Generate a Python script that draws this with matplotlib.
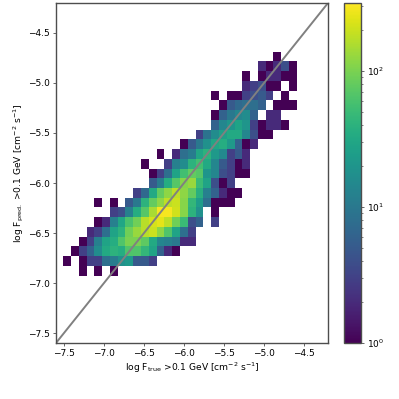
import numpy as np
import matplotlib
matplotlib.use("Agg")
import matplotlib.pyplot as plt
from matplotlib.colors import LogNorm

bin_edges = np.linspace(-7.51, -4.59, 31)
first_row_index = 6  # lowest occupied bin in y

# counts per y-bin, from the top occupied row downward; (first x-bin, counts), 0 = empty
row_00 = (27, [1])
row_01 = (25, [2, 1, 2, 4, 1])
row_02 = (23, [1, 0, 1, 2, 2, 1, 1])
row_03 = (23, [2, 3, 4, 1, 1, 0, 1])
row_04 = (19, [1, 0, 1, 1, 3, 4, 5, 3, 0, 1])
row_05 = (20, [1, 5, 7, 8, 8, 6, 0, 1, 1, 1])
row_06 = (19, [1, 6, 10, 14, 16, 6, 0, 2, 2])
row_07 = (19, [6, 14, 20, 28, 20, 3, 1, 2, 2, 1])
row_08 = (17, [3, 9, 16, 25, 32, 32, 14, 4, 1, 1])
row_09 = (15, [1, 5, 10, 18, 30, 35, 22, 6, 1, 2])
row_10 = (12, [1, 0, 2, 8, 11, 30, 40, 22, 15, 3, 5, 2])
row_11 = (10, [1, 0, 0, 3, 12, 16, 40, 55, 32, 14, 5, 3, 1, 2])
row_12 = (11, [1, 3, 8, 28, 55, 80, 70, 20, 14, 4, 3, 1, 1])
row_13 = (11, [5, 11, 35, 70, 110, 130, 50, 28, 4, 1, 3])
row_14 = (9, [3, 7, 32, 80, 120, 180, 120, 80, 38, 12, 6, 2, 1, 1])
row_15 = (4, [1, 0, 1, 0, 5, 10, 40, 80, 120, 180, 200, 110, 45, 24, 8, 1, 1, 1])
row_16 = (6, [3, 4, 12, 35, 70, 150, 290, 290, 210, 110, 40, 18, 0, 1])
row_17 = (4, [1, 2, 12, 30, 60, 90, 170, 220, 250, 180, 90, 50, 4, 6, 0, 3])
row_18 = (3, [2, 3, 8, 28, 40, 90, 130, 170, 200, 120, 65, 28, 8, 3])
row_19 = (2, [1, 3, 12, 28, 35, 65, 100, 100, 75, 32, 14, 12, 10, 2, 2])
row_20 = (1, [1, 3, 6, 16, 32, 40, 35, 65, 65, 45, 28, 6, 2, 1])
row_21 = (0, [1, 0, 1, 3, 3, 8, 11, 18, 22, 5, 5, 3])
row_22 = (2, [1, 0, 1, 0, 1])
rows_top_down = [row_00, row_01, row_02, row_03, row_04, row_05, row_06, row_07,
                 row_08, row_09, row_10, row_11, row_12, row_13, row_14, row_15,
                 row_16, row_17, row_18, row_19, row_20, row_21, row_22]

ticks = [-7.5, -7.0, -6.5, -6.0, -5.5, -5.0, -4.5]
limits = (-7.6, -4.2)
frame = '#4d4d4d'

counts = np.zeros((30, 30))
for k, (start, vals) in enumerate(rows_top_down):
    r = first_row_index + len(rows_top_down) - 1 - k
    counts[r, start:start + len(vals)] = vals
masked = np.ma.masked_where(counts == 0, counts)

plt.rcParams['font.size'] = 6.5
fig = plt.figure(figsize=(3.99, 3.99), dpi=100)
ax = fig.add_axes([56 / 399, 1 - 343 / 399, 272 / 399, 340 / 399])
cax = fig.add_axes([344 / 399, 1 - 343 / 399, 17 / 399, 340 / 399])

mesh = ax.pcolormesh(bin_edges, bin_edges, masked, cmap='viridis',
                     norm=LogNorm(vmin=1, vmax=316), antialiased=False)
ax.plot(limits, limits, color='gray', lw=1.4)
ax.set_xlim(limits)
ax.set_ylim(limits)
ax.set_xticks(ticks)
ax.set_yticks(ticks)
ax.set_xlabel(r'log F$_{\mathrm{true}}$ >0.1 GeV [cm$^{-2}$ s$^{-1}$]', fontsize=6.6, labelpad=2)
ax.set_ylabel(r'log F$_{\mathrm{pred.}}$ >0.1 GeV [cm$^{-2}$ s$^{-1}$]', fontsize=6.6, labelpad=1)
ax.tick_params(length=2.5, width=0.6, pad=2, labelsize=6.5, color=frame)
for s in ax.spines.values():
    s.set_linewidth(1.0)
    s.set_color(frame)
cb = fig.colorbar(mesh, cax=cax)
cb.ax.tick_params(which='major', length=2.5, width=0.6, pad=2, labelsize=6.5, color=frame)
cb.ax.tick_params(which='minor', length=1.5, width=0.5, color=frame)
cb.outline.set_linewidth(1.0)
cb.outline.set_edgecolor(frame)
fig.savefig('out.png', dpi=100)
